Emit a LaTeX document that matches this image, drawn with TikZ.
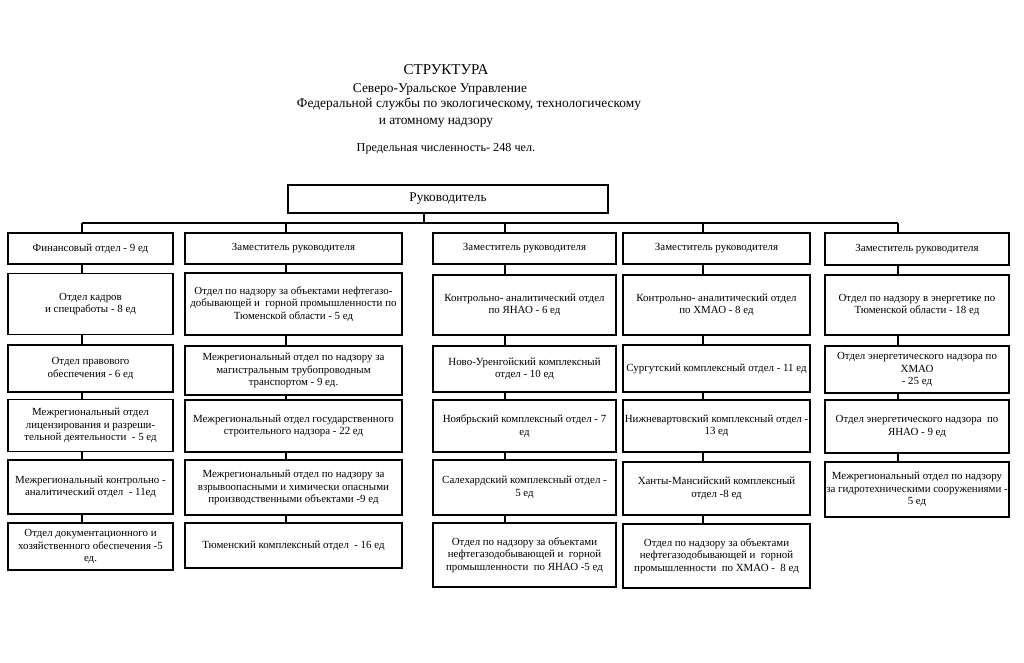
\documentclass[tikz,border=0pt]{standalone}
\usepackage{fontspec}
\setmainfont{Liberation Serif}
\begin{document}
\begin{tikzpicture}[x=1pt,y=-1pt,
  box/.style={draw,line width=1.5pt,align=center,inner sep=1pt,
    font=\fontsize{10.9}{12.5}\selectfont},
  c1/.style={box,minimum width=165pt},
  c2/.style={box,minimum width=217pt},
  c3/.style={box,minimum width=183pt},
  c4/.style={box,minimum width=187pt},
  c5/.style={box,minimum width=184pt},
  link/.style={line width=1.5pt},
  ttl/.style={inner sep=0pt,font=\fontsize{13.4}{15}\selectfont}]
\useasboundingbox (0,0) rectangle (1024,662);
\fill[white] (0,0) rectangle (1024,662);
% titles
\node[ttl,font=\fontsize{15}{17}\selectfont] (t1) at (446,70) {СТРУКТУРА};
\node[ttl] (t2) at (440,89) {Северо-Уральское Управление};
\node[ttl] (t3) at (469,104) {Федеральной службы по экологическому, технологическому};
\node[ttl] (t4) at (436,123) {и атомному надзору};
\node[ttl,font=\fontsize{12.2}{14}\selectfont] (t5) at (446,149) {Предельная численность- 248 чел.};
% head
\node[box,minimum width=320pt,minimum height=28pt,font=\fontsize{13.3}{15}\selectfont] (head) at (448,199) {Руководитель};
% column 1
\node[c1,minimum height=31pt] (a0) at (90.5,248.5) {Финансовый отдел - 9 ед};
\node[c1,minimum height=61pt] (a1) at (90.5,304) {Отдел кадров\\и спецработы - 8 ед};
\node[c1,minimum height=47pt] (a2) at (90.5,368.5) {Отдел правового\\обеспечения - 6 ед};
\node[c1,minimum height=52pt] (a3) at (90.5,425.5) {Межрегиональный отдел\\лицензирования и разреши-\\тельной деятельности~ - 5 ед};
\node[c1,minimum height=54pt] (a4) at (90.5,487) {Межрегиональный контрольно -\\аналитический отдел~ - 11ед};
\node[c1,minimum height=47pt] (a5) at (90.5,546.5) {Отдел документационного и\\хозяйственного обеспечения -5\\ед.};
% column 2
\node[c2,minimum height=31pt] (b0) at (293.5,248.5) {Заместитель руководителя};
\node[c2,minimum height=62pt] (b1) at (293.5,304) {Отдел по надзору за объектами нефтегазо-\\добывающей и~ горной промышленности по\\Тюменской области - 5 ед};
\node[c2,minimum height=49pt] (b2) at (293.5,370.5) {Межрегиональный отдел по надзору за\\магистральным трубопроводным\\транспортом - 9 ед.};
\node[c2,minimum height=52pt] (b3) at (293.5,426) {Межрегиональный отдел государственного\\строительного надзора - 22 ед};
\node[c2,minimum height=55pt] (b4) at (293.5,487.5) {Межрегиональный отдел по надзору за\\взрывоопасными и химически опасными\\производственными объектами -9 ед};
\node[c2,minimum height=45pt] (b5) at (293.5,545.5) {Тюменский комплексный отдел~ - 16 ед};
% column 3
\node[c3,minimum height=31pt] (c0) at (524.5,248.5) {Заместитель руководителя};
\node[c3,minimum height=60pt] (c1) at (524.5,305) {Контрольно- аналитический отдел\\по ЯНАО - 6 ед};
\node[c3,minimum height=46pt] (c2) at (524.5,369) {Ново-Уренгойский комплексный\\отдел - 10 ед};
\node[c3,minimum height=52pt] (c3) at (524.5,426) {Ноябрьский комплексный отдел - 7\\ед};
\node[c3,minimum height=55pt] (c4) at (524.5,487.5) {Салехардский комплексный отдел -\\5 ед};
\node[c3,minimum height=64pt] (c5) at (524.5,555) {Отдел по надзору за объектами\\нефтегазодобывающей и~ горной\\промышленности~ по ЯНАО -5 ед};
% column 4
\node[c4,minimum height=31pt] (d0) at (716.5,248.5) {Заместитель руководителя};
\node[c4,minimum height=60pt] (d1) at (716.5,305) {Контрольно- аналитический отдел\\по ХМАО - 8 ед};
\node[c4,minimum height=47pt] (d2) at (716.5,368.5) {Сургутский комплексный отдел - 11 ед};
\node[c4,minimum height=52pt] (d3) at (716.5,426) {Нижневартовский комплексный отдел -\\13 ед};
\node[c4,minimum height=53pt] (d4) at (716.5,488.5) {Ханты-Мансийский комплексный\\отдел -8 ед};
\node[c4,minimum height=64pt] (d5) at (716.5,556) {Отдел по надзору за объектами\\нефтегазодобывающей и~ горной\\промышленности~ по ХМАО -~ 8 ед};
% column 5
\node[c5,minimum height=32pt] (e0) at (917,249) {Заместитель руководителя};
\node[c5,minimum height=60pt] (e1) at (917,305) {Отдел по надзору в энергетике по\\Тюменской области - 18 ед};
\node[c5,minimum height=47pt] (e2) at (917,369.5) {Отдел энергетического надзора по\\ХМАО\\- 25 ед};
\node[c5,minimum height=53pt] (e3) at (917,426.5) {Отдел энергетического надзора~ по\\ЯНАО - 9 ед};
\node[c5,minimum height=55pt] (e4) at (917,489.5) {Межрегиональный отдел по надзору\\за гидротехническими сооружениями -\\5 ед};
% connectors
\coordinate (busL) at (82,223);
\coordinate (busR) at (898,223);
\draw[link] (busL) -- (busR);
\draw[link] ([xshift=-24pt]head.south) -- ([xshift=-24pt]head.south |- busL);
\foreach \c/\s/\n in {a/-8.5/5, b/-7.5/5, c/-19.5/5, d/-13.5/5, e/-19/4} {
  \draw[link] ([xshift=\s pt]\c0.north |- busL) -- ([xshift=\s pt]\c0.north);
  \foreach \i [evaluate=\i as \p using int(\i-1)] in {1,...,\n} {
    \draw[link] ([xshift=\s pt]\c\p.south) -- ([xshift=\s pt]\c\i.north);
  }
}
\end{tikzpicture}
\end{document}
